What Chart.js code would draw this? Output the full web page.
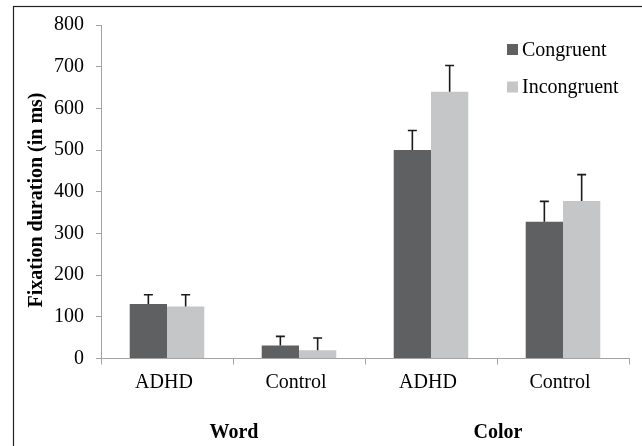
<!DOCTYPE html>
<html>
<head>
<meta charset="utf-8">
<script src="https://cdn.jsdelivr.net/npm/chart.js@4.4.1/dist/chart.umd.min.js"></script>
<style>
  html, body { margin: 0; padding: 0; background: #ffffff; }
  #wrap { width: 642px; height: 446px; position: relative; }
</style>
</head>
<body>
<div id="wrap"><canvas id="chart" width="642" height="446"></canvas></div>
<script>
// Mean fixation durations (ms) with upper error bars
const categories = ['ADHD', 'Control', 'ADHD', 'Control'];
const groups = ['Word', 'Color'];
const seriesNames = ['Congruent', 'Incongruent'];
const congruent = [131, 31, 500, 328];
const incongruent = [125, 20, 640, 378];
const congruentErr = [22, 22, 47, 49];
const incongruentErr = [28, 29, 63, 63];
const yMin = 0, yMax = 800, yStep = 100;
const yTitle = 'Fixation duration (in ms)';

const seriesColors = ['#5f6062', '#c5c6c8'];
const errors = [congruentErr, incongruentErr];
const axisColor = '#a3a3a3';
const FONT = "'Liberation Serif', 'Times New Roman', serif";

// White background and the outer frame
const framePlugin = {
  id: 'frame',
  beforeDraw(chart) {
    const ctx = chart.ctx;
    ctx.save();
    ctx.fillStyle = '#ffffff';
    ctx.fillRect(0, 0, chart.width, chart.height);
    ctx.strokeStyle = '#222222';
    ctx.lineWidth = 1.2;
    ctx.strokeRect(13.5, 6.5, 800, 600);
    ctx.restore();
  }
};

// Rotated y axis title
const yTitlePlugin = {
  id: 'yTitle',
  afterDraw(chart) {
    const ctx = chart.ctx;
    ctx.save();
    ctx.translate(37, 200);
    ctx.rotate(-Math.PI / 2);
    ctx.font = 'bold 20px ' + FONT;
    ctx.fillStyle = '#000000';
    ctx.textAlign = 'center';
    ctx.textBaseline = 'middle';
    ctx.fillText(yTitle, 0, 0);
    ctx.restore();
  }
};

// Upper error bars with caps
const errorBarPlugin = {
  id: 'errorBars',
  afterDatasetsDraw(chart) {
    const ctx = chart.ctx;
    const y = chart.scales.y;
    ctx.save();
    ctx.strokeStyle = '#1a1a1a';
    ctx.lineWidth = 1.6;
    chart.data.datasets.forEach((ds, i) => {
      const meta = chart.getDatasetMeta(i);
      meta.data.forEach((bar, j) => {
        const top = y.getPixelForValue(ds.data[j] + errors[i][j]);
        ctx.beginPath();
        ctx.moveTo(bar.x, bar.y);
        ctx.lineTo(bar.x, top);
        ctx.moveTo(bar.x - 4.5, top);
        ctx.lineTo(bar.x + 4.5, top);
        ctx.stroke();
      });
    });
    ctx.restore();
  }
};

// Vertical legend in the upper right corner
const legendPlugin = {
  id: 'sideLegend',
  afterDraw(chart) {
    const ctx = chart.ctx;
    ctx.save();
    ctx.font = '20px ' + FONT;
    ctx.textBaseline = 'middle';
    ctx.textAlign = 'left';
    chart.data.datasets.forEach((ds, i) => {
      const cy = 49.5 + i * 37.5;
      ctx.fillStyle = ds.backgroundColor;
      ctx.fillRect(507, cy - 5.5, 11, 11);
      ctx.fillStyle = '#000000';
      ctx.fillText(ds.label, 522, cy + 1);
    });
    ctx.restore();
  }
};

new Chart(document.getElementById('chart'), {
  type: 'bar',
  data: {
    labels: categories,
    datasets: [
      { label: seriesNames[0], data: congruent, backgroundColor: seriesColors[0],
        borderWidth: 0, categoryPercentage: 0.565, barPercentage: 1.0 },
      { label: seriesNames[1], data: incongruent, backgroundColor: seriesColors[1],
        borderWidth: 0, categoryPercentage: 0.565, barPercentage: 1.0 }
    ]
  },
  options: {
    responsive: false,
    animation: false,
    layout: { padding: { left: 14, top: 25, right: 13, bottom: 0 } },
    plugins: {
      legend: { display: false },
      tooltip: { enabled: false }
    },
    scales: {
      x: {
        type: 'category',
        position: 'bottom',
        offset: true,
        grid: { display: true, drawOnChartArea: false, offset: true, tickLength: 6,
                color: axisColor, lineWidth: 1 },
        border: { color: axisColor, width: 1 },
        ticks: { font: { family: FONT, size: 20 }, color: '#000000', padding: 6,
                 labelOffset: -3, maxRotation: 0, autoSkip: false },
        afterFit(scale) { scale.height = 40; }
      },
      x2: {
        type: 'category',
        labels: groups,
        position: 'bottom',
        offset: true,
        grid: { display: false, drawTicks: false },
        border: { display: false },
        ticks: { font: { family: FONT, size: 20, weight: 'bold' }, color: '#000000',
                 padding: 22, labelOffset: 1, maxRotation: 0, autoSkip: false },
        afterFit(scale) { scale.height = 446 - 358.5 - 40; }
      },
      y: {
        min: yMin,
        max: yMax,
        ticks: { stepSize: yStep, padding: 12, font: { family: FONT, size: 20 }, color: '#000000' },
        grid: { drawOnChartArea: false, tickLength: 5, color: axisColor, lineWidth: 1 },
        border: { color: axisColor, width: 1 },
        afterFit(scale) { scale.width = 87; }
      }
    }
  },
  plugins: [framePlugin, errorBarPlugin, legendPlugin, yTitlePlugin]
});
</script>
</body>
</html>
